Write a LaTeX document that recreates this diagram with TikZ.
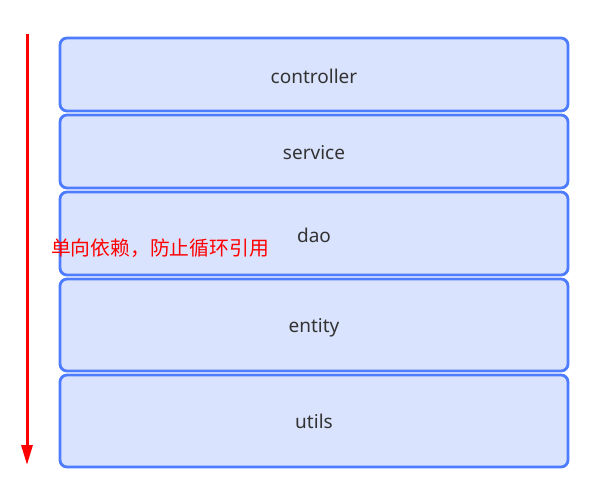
\documentclass[tikz,border=0pt]{standalone}
\usepackage{fontspec}
\setmainfont{Noto Sans}
\newfontfamily\cjk{Noto Sans CJK SC}
\usetikzlibrary{arrows.meta}
\definecolor{boxline}{HTML}{4D7CFE}
\definecolor{boxfill}{HTML}{DAE3FD}
\definecolor{txt}{HTML}{333333}
\begin{document}
\begin{tikzpicture}[x=1pt,y=-1pt,
  layer/.style={draw=boxline, fill=boxfill, line width=2.8pt, rounded corners=7pt},
  lbl/.style={text=txt, font=\fontsize{19}{22}\selectfont, inner sep=0pt}]
\useasboundingbox (0,0) rectangle (603,483);
\draw[layer] (60,38) rectangle (568,111);
\draw[layer] (60,115) rectangle (568,188);
\draw[layer] (60,192) rectangle (568,275);
\draw[layer] (60,279) rectangle (568,371);
\draw[layer] (60,375) rectangle (568,467);
\node[lbl] (controller) at (314,76) {controller};
\node[lbl] (service) at (314,153) {service};
\node[lbl] (dao) at (314,235) {dao};
\node[lbl] (entity) at (314,328) {entity};
\node[lbl] (utils) at (314,421) {utils};
\coordinate (top) at (27,34);
\coordinate (bot) at (27,465);
\draw[red, line width=3pt, -{Triangle[length=20pt,width=11pt]}] (top) -- (bot);
\node[text=red, font=\cjk\fontsize{19.8}{22}\selectfont, inner sep=0pt, anchor=west] (note) at (51,248) {单向依赖，防止循环引用};
\end{tikzpicture}
\end{document}
